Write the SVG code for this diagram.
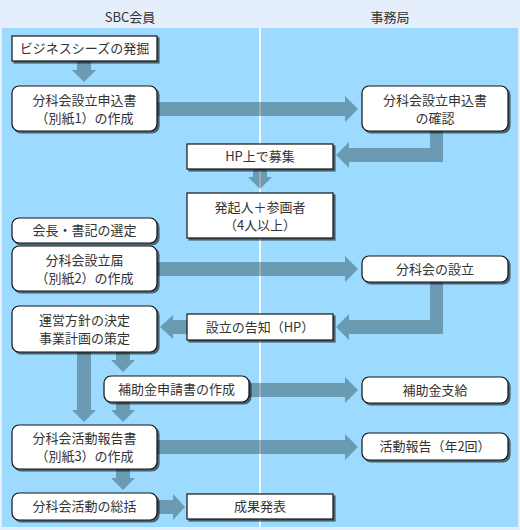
<svg xmlns="http://www.w3.org/2000/svg" width="520" height="530" viewBox="0 0 520 530">
<defs>
<filter id="sh" x="-10%" y="-20%" width="130%" height="160%">
<feDropShadow dx="2" dy="2" stdDeviation="0.6" flood-color="#000" flood-opacity="0.55"/>
</filter>
<style>
.bg{fill:#E4EFFB}
.panel{fill:#9CDBFF}
.div{fill:#F4F8FF}
.box{fill:#fff;stroke:#111;stroke-width:1.2;filter:url(#sh)}
.t{font-family:"Noto Sans CJK JP","Noto Sans",sans-serif;font-size:13px;fill:#333;text-anchor:middle}
.h{font-family:"Noto Sans CJK JP","Noto Sans",sans-serif;font-size:13px;fill:#333;text-anchor:middle}
.ar{fill:#243B41;fill-opacity:0.4}
</style>
</defs>
<rect class="bg" x="0" y="0" width="520" height="530"/>
<rect class="panel" x="2" y="28" width="516" height="499"/>
<rect class="div" x="259" y="28" width="2" height="499"/>
<text class="h" x="130" y="22">SBC会員</text>
<text class="h" x="390" y="22">事務局</text>

<g id="connectors">
<polygon class="ar" points="77,61 91,61 91,70 96,70 84,82 72,70 77,70"/>
<polygon class="ar" points="157,102 345,102 345,96 358,109 345,122 345,116 157,116"/>
<polygon class="ar" points="430,131 443,131 443,162 349,162 349,168 336,155 349,142 349,148 430,148"/>
<polygon class="ar" points="253,169 267,169 267,177 272,177 260,189 248,177 253,177"/>
<polygon class="ar" points="157,262 345,262 345,256 358,269 345,282 345,276 157,276"/>
<polygon class="ar" points="430,282 443,282 443,334 349,334 349,340 336,327 349,314 349,320 430,320"/>
<polygon class="ar" points="187,320 173,320 173,315 160,327 173,339 173,334 187,334"/>
<polygon class="ar" points="77,352 91,352 91,410 96,410 84,422 72,410 77,410"/>
<polygon class="ar" points="116,352 130,352 130,360 135,360 123,372 111,360 116,360"/>
<polygon class="ar" points="249,383 345,383 345,377 358,390 345,403 345,397 249,397"/>
<polygon class="ar" points="116,402 130,402 130,410 135,410 123,422 111,410 116,410"/>
<polygon class="ar" points="157,440 345,440 345,434 358,447 345,460 345,454 157,454"/>
<polygon class="ar" points="116,469 130,469 130,478 135,478 123,490 111,478 116,478"/>
<polygon class="ar" points="157,500 173,500 173,494 185,507 173,520 173,514 157,514"/>
</g>

<g id="n1"><rect class="box" x="12" y="36" width="145" height="25"/><text class="t" x="84.5" y="53">ビジネスシーズの発掘</text></g>
<g id="n2"><rect class="box" x="12" y="86" width="145" height="45" rx="7"/><text class="t" x="84.5" y="104.5">分科会設立申込書</text><text class="t" x="84.5" y="122.5">（別紙1）の作成</text></g>
<g id="n3"><rect class="box" x="362" y="86" width="146" height="45" rx="7"/><text class="t" x="435" y="104.5">分科会設立申込書</text><text class="t" x="435" y="122.5">の確認</text></g>
<g id="n4"><rect class="box" x="187" y="144" width="146" height="25"/><text class="t" x="260" y="161">HP上で募集</text></g>
<g id="n5"><rect class="box" x="187" y="193" width="146" height="45"/><text class="t" x="260" y="211.5">発起人＋参画者</text><text class="t" x="260" y="229.5">（4人以上）</text></g>
<g id="n6"><rect class="box" x="12" y="218" width="145" height="25" rx="7"/><text class="t" x="84.5" y="235">会長・書記の選定</text></g>
<g id="n7"><rect class="box" x="12" y="246" width="145" height="45" rx="7"/><text class="t" x="84.5" y="264.5">分科会設立届</text><text class="t" x="84.5" y="282.5">（別紙2）の作成</text></g>
<g id="n8"><rect class="box" x="362" y="256" width="146" height="26" rx="7"/><text class="t" x="435" y="273.5">分科会の設立</text></g>
<g id="n9"><rect class="box" x="187" y="314" width="146" height="26"/><text class="t" x="260" y="331.5">設立の告知（HP）</text></g>
<g id="n10"><rect class="box" x="12" y="306" width="145" height="46" rx="7"/><text class="t" x="84.5" y="325">運営方針の決定</text><text class="t" x="84.5" y="343">事業計画の策定</text></g>
<g id="n11"><rect class="box" x="104" y="376" width="145" height="26" rx="7"/><text class="t" x="176.5" y="393.5">補助金申請書の作成</text></g>
<g id="n12"><rect class="box" x="362" y="377" width="146" height="26" rx="7"/><text class="t" x="435" y="394.5">補助金支給</text></g>
<g id="n13"><rect class="box" x="12" y="425" width="145" height="44" rx="7"/><text class="t" x="84.5" y="443">分科会活動報告書</text><text class="t" x="84.5" y="461">（別紙3）の作成</text></g>
<g id="n14"><rect class="box" x="362" y="433" width="146" height="27" rx="7"/><text class="t" x="435" y="451">活動報告（年2回）</text></g>
<g id="n15"><rect class="box" x="12" y="493" width="145" height="27" rx="7"/><text class="t" x="84.5" y="511">分科会活動の総括</text></g>
<g id="n16"><rect class="box" x="187" y="494" width="146" height="25"/><text class="t" x="260" y="511">成果発表</text></g>
</svg>
